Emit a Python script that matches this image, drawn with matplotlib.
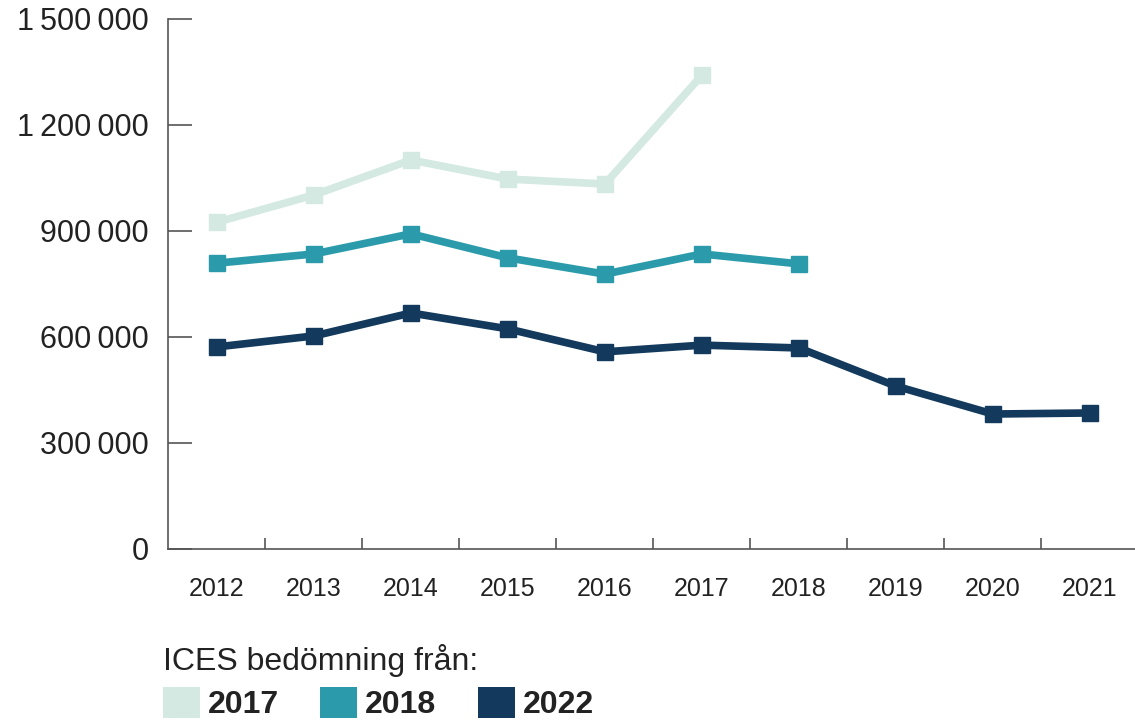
import matplotlib
matplotlib.use("Agg")
import matplotlib.pyplot as plt
from matplotlib.patches import Patch
from matplotlib.ticker import FuncFormatter, FixedLocator

plt.rcParams['font.family'] = ['Liberation Sans', 'DejaVu Sans']

# years on the x axis
years = ['2012', '2013', '2014', '2015', '2016', '2017', '2018', '2019', '2020', '2021']

# ICES assessments
ices_2017 = [925000, 1002000, 1101000, 1047000, 1033000, 1341000]
ices_2018 = [809000, 835000, 892000, 824000, 778000, 835000, 807000]
ices_2022 = [572000, 603000, 668000, 623000, 558000, 577000, 569000, 461000, 382000, 385000]

series_names = ['2017', '2018', '2022']
series_values = [ices_2017, ices_2018, ices_2022]
colors = ['#d3e9e2', '#2b9bab', '#133a5c']

y_ticks = [0, 300000, 600000, 900000, 1200000, 1500000]

fig = plt.figure(figsize=(11.35, 7.2), dpi=100)
ax = fig.add_axes([168 / 1135, 1 - 549 / 720, 1 - 168 / 1135, (549 - 19) / 720])

for name, vals, col in zip(series_names, series_values, colors):
    x = list(range(len(vals)))
    ax.plot(x, vals, color=col, lw=5.5, marker='s', markersize=12,
            solid_joinstyle='miter', zorder=3)

ax.set_xlim(-0.505, 9.465)
ax.set_ylim(0, 1500000)

# spines
for s in ['top', 'right']:
    ax.spines[s].set_visible(False)
ax.spines['left'].set_color('#555555')
ax.spines['bottom'].set_color('#555555')
ax.spines['left'].set_linewidth(1.2)
ax.spines['bottom'].set_linewidth(1.2)

# y axis
ax.yaxis.set_major_locator(FixedLocator(y_ticks))
ax.yaxis.set_major_formatter(FuncFormatter(lambda v, p: f"{int(v):,}".replace(',', '\u2009') if v else '0'))
ax.tick_params(axis='y', direction='in', length=17, width=1.2, color='#555555',
               labelsize=22, pad=14, labelcolor='#222222')

# x axis: labels at points, ticks between them
ax.set_xticks(range(len(years)))
ax.set_xticklabels(years)
ax.tick_params(axis='x', which='major', length=0, labelsize=18, pad=20, labelcolor='#222222')
ax.set_xticks([i + 0.5 for i in range(len(years) - 1)], minor=True)
ax.tick_params(axis='x', which='minor', direction='in', length=8, width=1.2, color='#555555')

handles = [Patch(facecolor=c, edgecolor='none', label=n) for n, c in zip(series_names, colors)]
leg = fig.legend(handles=handles, loc='upper left', bbox_to_anchor=(163 / 1135, 1 - 644 / 720),
                 ncol=3, frameon=False, title='ICES bedömning från:', alignment='left',
                 prop={'size': 23, 'weight': 'bold'}, title_fontsize=23,
                 handlelength=1.15, handleheight=1.15, handletextpad=0.25, columnspacing=1.3,
                 borderpad=0, borderaxespad=0, labelspacing=0.3)
leg.get_title().set_color('#222222')
for t in leg.get_texts():
    t.set_color('#222222')

fig.savefig('out.png', dpi=100)
